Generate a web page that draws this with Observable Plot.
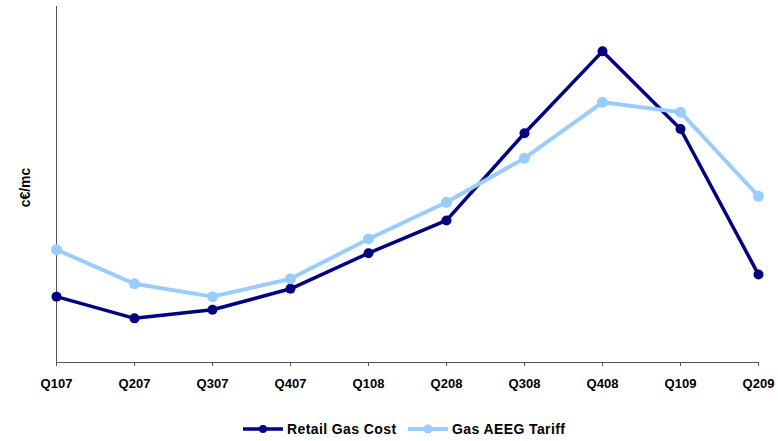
<!DOCTYPE html>
<html>
<head>
<meta charset="utf-8">
<script src="https://cdn.jsdelivr.net/npm/d3@7"></script>
<script src="https://cdn.jsdelivr.net/npm/@observablehq/plot@0.6"></script>
<style>
  html, body { margin: 0; padding: 0; background: #fff; }
  body { width: 778px; height: 441px; overflow: hidden; font-family: "Liberation Sans", Arial, sans-serif; }
  #legend { position: relative; height: 31px; font-weight: bold; font-size: 14px; letter-spacing: 0.4px; color: #000; }
  .item { position: absolute; top: 11px; display: flex; align-items: center; }
  .item svg { margin-right: 3px; }
</style>
</head>
<body>
<div id="chart"></div>
<div id="legend"></div>
<script>
const quarters = ["Q107","Q207","Q307","Q407","Q108","Q208","Q308","Q408","Q109","Q209"];
const retailGasCost = [18.5, 12.4, 14.8, 20.7, 30.7, 39.9, 64.4, 87.4, 65.6, 24.7];
const gasAEEGTariff = [31.7, 22.1, 18.5, 23.5, 34.7, 45.0, 57.4, 73.1, 70.3, 46.7];
const seriesNames = ["Retail Gas Cost", "Gas AEEG Tariff"];
const seriesColors = ["#000080", "#99CCFF"];

const retail = quarters.map((q, i) => ({q, v: retailGasCost[i]}));
const tariff = quarters.map((q, i) => ({q, v: gasAEEGTariff[i]}));

const chart = Plot.plot({
  width: 778,
  height: 410,
  marginLeft: 56,
  marginRight: 20,
  marginTop: 6,
  marginBottom: 48,
  style: {fontFamily: "Liberation Sans, Arial, sans-serif", background: "#fff"},
  x: {type: "point", domain: quarters, padding: 0},
  y: {domain: [0, 100]},
  marks: [
    Plot.axisX({tickSize: 4, tickPadding: 12, fontSize: 13, fontWeight: "bold", fill: "#000", stroke: "#555", label: null}),
    Plot.axisY({ticks: [], label: null}),
    Plot.ruleX([0], {x: () => quarters[0], stroke: "#555", strokeWidth: 1}),
    Plot.ruleY([0], {stroke: "#555", strokeWidth: 1}),
    Plot.text(["c€/mc"], {frameAnchor: "left", dx: -31, dy: 3, rotate: -90, textAnchor: "middle", fontWeight: "bold", fontSize: 14, fill: "#000"}),
    Plot.line(retail, {x: "q", y: "v", stroke: seriesColors[0], strokeWidth: 3.5}),
    Plot.dot(retail, {x: "q", y: "v", r: 5, fill: seriesColors[0]}),
    Plot.line(tariff, {x: "q", y: "v", stroke: seriesColors[1], strokeWidth: 4}),
    Plot.dot(tariff, {x: "q", y: "v", r: 5.5, fill: seriesColors[1]})
  ]
});
document.getElementById("chart").appendChild(chart);

const legend = document.getElementById("legend");
const lefts = [242, 407];
seriesNames.forEach((name, i) => {
  const item = document.createElement("div");
  item.className = "item";
  item.style.left = lefts[i] + "px";
  item.innerHTML = `<svg width="42" height="12"><line x1="1" x2="41" y1="6" y2="6" stroke="${seriesColors[i]}" stroke-width="${i ? 4 : 3.5}"/><circle cx="21" cy="6" r="${i ? 4.5 : 4}" fill="${seriesColors[i]}"/></svg><span>${name}</span>`;
  legend.appendChild(item);
});
</script>
</body>
</html>
